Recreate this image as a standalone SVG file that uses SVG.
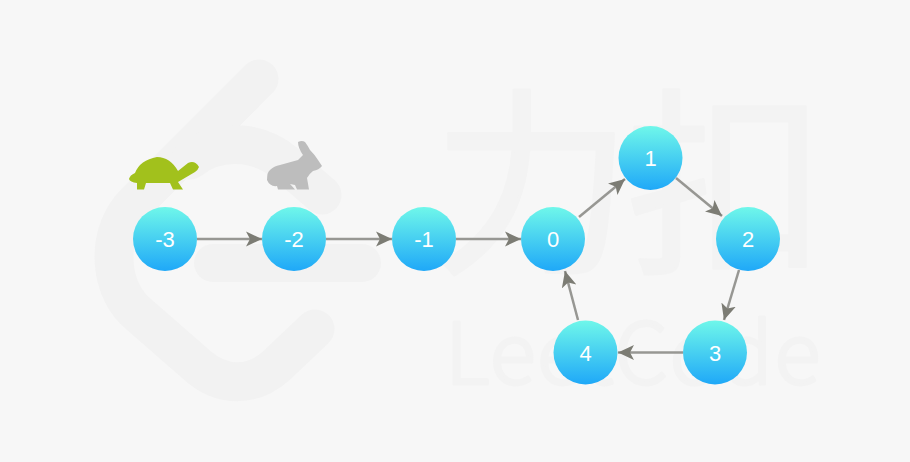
<svg xmlns="http://www.w3.org/2000/svg" width="910" height="462" viewBox="0 0 910 462">
<style>
.wm{fill:none;stroke:#f2f2f2;stroke-linecap:round;stroke-linejoin:round}
.wt{fill:#f3f3f3;stroke:#f3f3f3;stroke-linejoin:round;font-family:"Noto Sans CJK SC","Noto Sans",sans-serif}
.n{fill:url(#g)}
.l{fill:#fff;font:22px "Liberation Sans",Arial,sans-serif;text-anchor:middle}
.c{fill:none;stroke:#979793;stroke-width:2.500;marker-end:url(#a)}
</style>
<defs>
<linearGradient id="g" x1="0" y1="0" x2="0" y2="1"><stop offset="0" stop-color="#6ff7ea"/><stop offset="1" stop-color="#1fa8f8"/></linearGradient>
<marker id="a" markerUnits="userSpaceOnUse" markerWidth="18" markerHeight="16" refX="16" refY="8" orient="auto"><path d="M0 0.500L16 8L0 15.500L4 8Z" fill="#7c7c74"/></marker>
</defs>
<rect width="910" height="462" fill="#f7f7f7"/>
<g id="watermark">
<path class="wm" stroke-width="39" d="M259 79L135 203C107 231 107 283 135 311L198 366C222 387 252 387 276 366L315 329"/>
<path class="wm" stroke-width="39" d="M190 160C215 140 255 138 285 163L322 195"/>
<path class="wm" stroke-width="38" d="M213 263H362"/>
<text class="wt" x="432" y="258" font-size="200" font-weight="400" stroke-width="3" letter-spacing="-6">力扣</text>
<text class="wt" x="445" y="384" font-size="85" font-weight="300" stroke-width="3" letter-spacing="1.500">LeetCode</text>
</g>
<g id="connectors">
<path class="c" d="M197 239H262"/>
<path class="c" d="M326 239H392"/>
<path class="c" d="M456 239H521"/>
<path class="c" d="M579 217L625 179"/>
<path class="c" d="M676 178L722 216"/>
<path class="c" d="M739 270L724 320"/>
<path class="c" d="M683 352.500H618"/>
<path class="c" d="M578 320L565 271"/>
</g>
<g id="turtle"><path fill="#a2c11c" d="M129 179Q130 175 135 173Q140 160 157 157Q170 157 178 171L188 163Q195 160 199 167Q198 170 195 172L178 182L183 189.500H173L170 183H146L144 189.500H137V183Q130 182 129 179Z"/></g>
<g id="rabbit"><path fill="#bdbdbd" d="M267 180Q267 172 270 170Q274 166 280 165L298 160L303 155Q298 148 298 142Q302 140 305 142Q308 146 310 150Q315 155 318 160L322 166Q319 170 313 171Q309 174 307 178L309 189.500H297L295 185L290 184L295 189.500H278L277 186Q270 187 267 180Z"/></g>
<g id="node-m3"><circle class="n" cx="165" cy="239" r="32"/><text class="l" x="165" y="247">-3</text></g>
<g id="node-m2"><circle class="n" cx="294" cy="239" r="32"/><text class="l" x="294" y="247">-2</text></g>
<g id="node-m1"><circle class="n" cx="424" cy="239" r="32"/><text class="l" x="424" y="247">-1</text></g>
<g id="node-0"><circle class="n" cx="553" cy="239" r="32"/><text class="l" x="553" y="247">0</text></g>
<g id="node-1"><circle class="n" cx="650.500" cy="158" r="32"/><text class="l" x="650.500" y="166">1</text></g>
<g id="node-2"><circle class="n" cx="748" cy="239" r="32"/><text class="l" x="748" y="247">2</text></g>
<g id="node-3"><circle class="n" cx="715" cy="352.500" r="32"/><text class="l" x="715" y="360.500">3</text></g>
<g id="node-4"><circle class="n" cx="585.500" cy="352.500" r="32"/><text class="l" x="585.500" y="360.500">4</text></g>
</svg>
